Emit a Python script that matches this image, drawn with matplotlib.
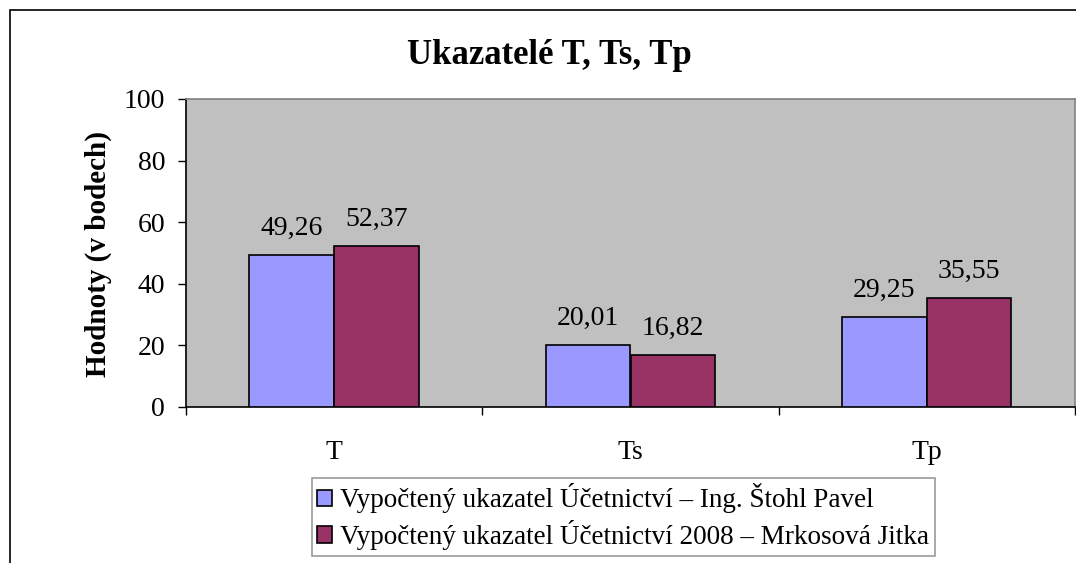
import matplotlib
matplotlib.use("Agg")
import matplotlib.pyplot as plt
from matplotlib.patches import Patch, Rectangle
import numpy as np

categories = ["T", "Ts", "Tp"]
series1_name = "Vypočtený ukazatel Účetnictví – Ing. Štohl Pavel"
series2_name = "Vypočtený ukazatel Účetnictví 2008 – Mrkosová Jitka"
series1 = [49.26, 20.01, 29.25]
series2 = [52.37, 16.82, 35.55]
yticks = [0, 20, 40, 60, 80, 100]

plt.rcParams['font.family'] = ['Liberation Serif', 'DejaVu Serif']

fig = plt.figure(figsize=(10.76, 5.63), dpi=100)
W, H = 1076, 563
# outer chart frame
fig.patches.append(Rectangle((10 / W, -0.1), 1.2, 1 - 10 / H + 0.1, transform=fig.transFigure,
                             fill=False, edgecolor='black', linewidth=1.2))

ax = fig.add_axes([186 / W, 1 - 407 / H, 889 / W, 308 / H])
ax.set_facecolor('#C0C0C0')

x = np.arange(len(categories))
bw = 1 / 3.5
b1 = ax.bar(x - bw / 2, series1, bw, color='#9999FF', edgecolor='black', linewidth=1.2, zorder=3)
b2 = ax.bar(x + bw / 2, series2, bw, color='#993366', edgecolor='black', linewidth=1.2, zorder=3)

fmt = lambda v: f"{v:.2f}".replace('.', ',')
for bars, vals in ((b1, series1), (b2, series2)):
    for r, v in zip(bars, vals):
        ax.text(r.get_x() + r.get_width() / 2, v + 6.5, fmt(v), ha='center', va='baseline',
                fontsize=20, zorder=4)

ax.set_xlim(-0.5, len(categories) - 0.5)
ax.set_ylim(0, 100)
ax.set_yticks(yticks)
ax.set_yticklabels([str(t) for t in yticks])
ax.tick_params(axis='y', direction='out', length=6, width=1, labelsize=20, pad=9)
ax.set_xticks(x)
ax.set_xticklabels(categories)
ax.tick_params(axis='x', which='major', length=0, labelsize=20, pad=24)
ax.set_xticks(np.arange(-0.5, len(categories), 1.0), minor=True)
ax.tick_params(axis='x', which='minor', direction='out', length=6, width=1)

for s in ('top', 'right'):
    ax.spines[s].set_color('#808080')
    ax.spines[s].set_linewidth(1.2)
for s in ('left', 'bottom'):
    ax.spines[s].set_color('black')
    ax.spines[s].set_linewidth(1.2)

fig.text(98 / W, 1 - 254 / H, "Hodnoty (v bodech)", ha='center', va='center', rotation=90,
         fontsize=21, fontweight='bold')
fig.text(549 / W, 1 - 55 / H, "Ukazatelé T, Ts, Tp", ha='center', va='center',
         fontsize=25, fontweight='bold')

handles = [Patch(facecolor='#9999FF', edgecolor='black', linewidth=1.2, label=series1_name),
           Patch(facecolor='#993366', edgecolor='black', linewidth=1.2, label=series2_name)]
leg = fig.legend(handles=handles, loc='upper left', bbox_to_anchor=(312 / W, 1 - 478 / H),
                 fontsize=19.5, frameon=True, fancybox=False, handlelength=0.55, handleheight=0.55,
                 handletextpad=0.3, borderpad=0.2, labelspacing=0.25, borderaxespad=0)
leg.get_frame().set_edgecolor('#808080')
leg.get_frame().set_linewidth(1.2)

fig.savefig("out.png", dpi=100)
